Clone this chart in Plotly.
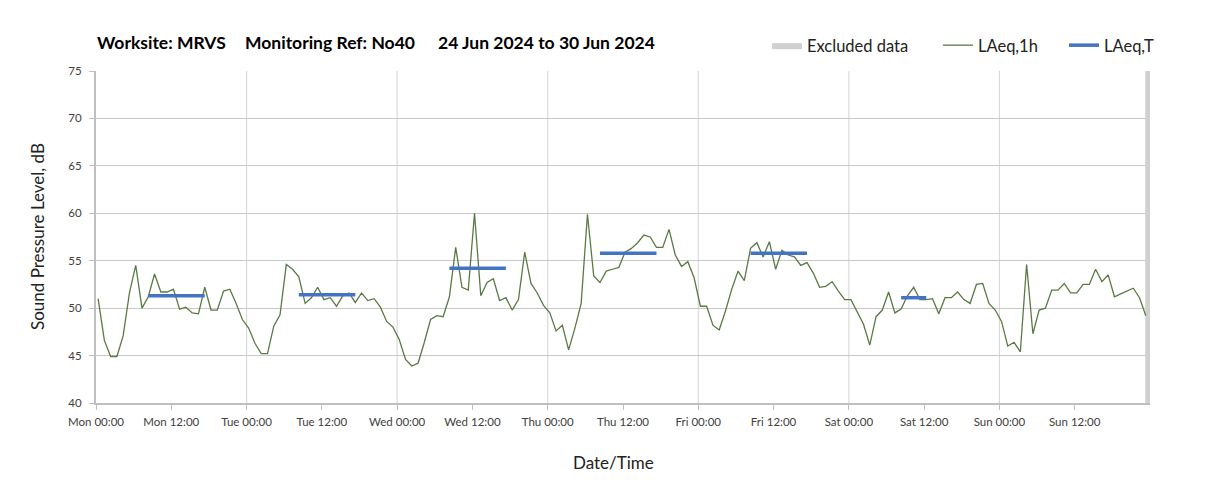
import pandas as pd
import plotly.graph_objects as go

# ─── Theme ────────────────────────────────────────────────────────────────────

_FONT = "Lato, 'Open Sans', sans-serif"
_TEXT = "#000000"
_LABEL = "#222222"
_TICK = "#404040"
_AXIS = "#BFBFBF"
_GRID = "#C8C8C8"
_VGRID = "#D9D9D9"
_GREEN = "#5A7A44"
_BLUE = "#4472C4"
_EXCL = "#D0D0D0"

# ─── Data ─────────────────────────────────────────────────────────────────────

start_time = "2024-06-24 00:20"

mon = [51.0, 46.6, 44.9, 44.9, 47.1, 51.6, 54.5, 50.0, 51.2, 53.6, 51.7, 51.7,
       52.0, 49.9, 50.1, 49.5, 49.4, 52.2, 49.8, 49.8, 51.8, 52.0, 50.5, 48.8]
tue = [47.9, 46.3, 45.2, 45.2, 48.1, 49.3, 54.6, 54.1, 53.3, 50.5, 51.1, 52.2,
       50.9, 51.1, 50.2, 51.3, 51.6, 50.6, 51.6, 50.8, 51.0, 50.1, 48.6, 48.0]
wed = [46.7, 44.6, 43.9, 44.2, 46.4, 48.8, 49.2, 49.1, 51.2, 56.4, 52.2, 51.9,
       60.0, 51.3, 52.7, 53.1, 50.8, 51.1, 49.8, 50.9, 55.9, 52.6, 51.6, 50.3]
thu = [49.5, 47.6, 48.2, 45.6, 47.9, 50.5, 59.9, 53.4, 52.7, 53.9, 54.1, 54.3,
       55.9, 56.3, 56.9, 57.7, 57.5, 56.4, 56.4, 58.3, 55.6, 54.4, 54.9, 53.2]
fri = [50.2, 50.2, 48.2, 47.7, 49.7, 52.0, 53.9, 52.9, 56.3, 56.9, 55.4, 57.0,
       54.1, 56.1, 55.6, 55.4, 54.5, 54.8, 53.7, 52.2, 52.3, 52.8, 51.8, 50.9]
sat = [50.9, 49.6, 48.3, 46.1, 49.1, 49.8, 51.7, 49.5, 49.9, 51.3, 52.2, 50.9,
       50.9, 51.0, 49.4, 51.1, 51.1, 51.7, 50.9, 50.5, 52.5, 52.6, 50.5, 49.8]
sun = [48.6, 46.0, 46.4, 45.4, 54.6, 47.3, 49.8, 50.0, 51.9, 51.9, 52.6, 51.6,
       51.6, 52.5, 52.5, 54.1, 52.8, 53.5, 51.2, 51.5, 51.8, 52.1, 51.1, 49.2]

# LAeq,T daytime periods: day index, first / last hourly sample, level
laeqt_day = [0, 1, 2, 3, 4, 5]
laeqt_first_hour = [8, 8, 8, 8, 8, 8]
laeqt_last_hour = [17, 17, 17, 17, 17, 12]
laeqt_level = [51.3, 51.4, 54.2, 55.8, 55.8, 51.1]

excluded_start = "2024-06-30 23:15"
excluded_end = "2024-07-01 00:00"

day_starts = pd.date_range("2024-06-24", "2024-06-30", freq="D")

title_parts = ["Worksite: MRVS", "Monitoring Ref: No40", "24 Jun 2024 to 30 Jun 2024"]

# ─── Build ────────────────────────────────────────────────────────────────────

laeq_1h = mon + tue + wed + thu + fri + sat + sun
times = pd.date_range(start_time, periods=len(laeq_1h), freq="h")

fig = go.Figure()

ex0, ex1 = pd.Timestamp(excluded_start), pd.Timestamp(excluded_end)
fig.add_trace(
    go.Scatter(
        x=[ex0, ex1, ex1, ex0, ex0], y=[40, 40, 75, 75, 40],
        name="Excluded data", mode="lines", fill="toself",
        fillcolor=_EXCL, line=dict(width=0, color=_EXCL),
        hoverinfo="skip", legend="legend",
    )
)

fig.add_trace(
    go.Scatter(
        x=times, y=laeq_1h, name="LAeq,1h", mode="lines",
        line=dict(color=_GREEN, width=1.3), legend="legend2",
    )
)

tx, ty = [], []
for d, h0, h1, lv in zip(laeqt_day, laeqt_first_hour, laeqt_last_hour, laeqt_level):
    tx += [times[d * 24 + h0], times[d * 24 + h1], None]
    ty += [lv, lv, None]
fig.add_trace(
    go.Scatter(
        x=tx, y=ty, name="LAeq,T", mode="lines",
        line=dict(color=_BLUE, width=3.5), legend="legend3",
    )
)

# day gridlines
for d in day_starts[1:]:
    fig.add_shape(
        type="line", xref="x", yref="paper", x0=d, x1=d, y0=0, y1=1,
        line=dict(color=_VGRID, width=1.2), layer="below",
    )

# title in three spaced blocks
for txt, px in zip(title_parts, [95, 243, 436]):
    fig.add_annotation(
        text=f"<b>{txt}</b>", xref="paper", yref="paper",
        x=(px - 96) / 1054, y=1.086, xanchor="left", yanchor="middle",
        showarrow=False, font=dict(size=17.5, color=_TEXT),
    )

# axis titles
fig.add_annotation(
    text="Date/Time", xref="paper", yref="paper", x=(613 - 96) / 1054, y=-0.18,
    xanchor="center", yanchor="middle", showarrow=False,
    font=dict(size=17, color=_LABEL),
)
fig.add_annotation(
    text="Sound Pressure Level, dB", xref="paper", yref="paper", x=(37 - 96) / 1054, y=0.5,
    xanchor="center", yanchor="middle", textangle=-90, showarrow=False,
    font=dict(size=17, color=_LABEL),
)

tick_vals = pd.date_range("2024-06-24", periods=14, freq="12h")

_leg = dict(orientation="h", xanchor="left", y=1.077, yanchor="middle",
            font=dict(size=16.5, color=_LABEL), itemwidth=30)

# page body adds 8px, so the figure is 1200x485 with margins shifted to match
fig.update_layout(
    width=1200, height=485,
    paper_bgcolor="white", plot_bgcolor="white",
    font=dict(family=_FONT, color=_TEXT, size=12),
    margin=dict(l=88, r=58, t=63, b=90),
    showlegend=True,
    legend=dict(_leg, x=(767 - 96) / 1054),
    legend2=dict(_leg, x=(938 - 96) / 1054),
    legend3=dict(_leg, x=(1064 - 96) / 1054),
)

fig.update_xaxes(
    type="date",
    range=[pd.Timestamp("2024-06-24"), pd.Timestamp("2024-07-01")],
    tickvals=tick_vals, tickformat="%a %H:%M",
    tickfont=dict(size=11.5, color=_TICK),
    showgrid=False, zeroline=False,
    showline=True, linecolor=_AXIS, linewidth=1.5,
    ticks="outside", ticklen=5, tickcolor=_AXIS, ticklabelstandoff=2,
)
fig.update_yaxes(
    range=[40, 75], dtick=5,
    tickfont=dict(size=11.5, color=_TICK),
    showgrid=True, gridcolor=_GRID, gridwidth=1.2, zeroline=False,
    showline=True, linecolor=_AXIS, linewidth=2,
    ticks="outside", ticklen=5, tickcolor=_AXIS, ticklabelstandoff=5,
)

fig.write_html("out.html")
